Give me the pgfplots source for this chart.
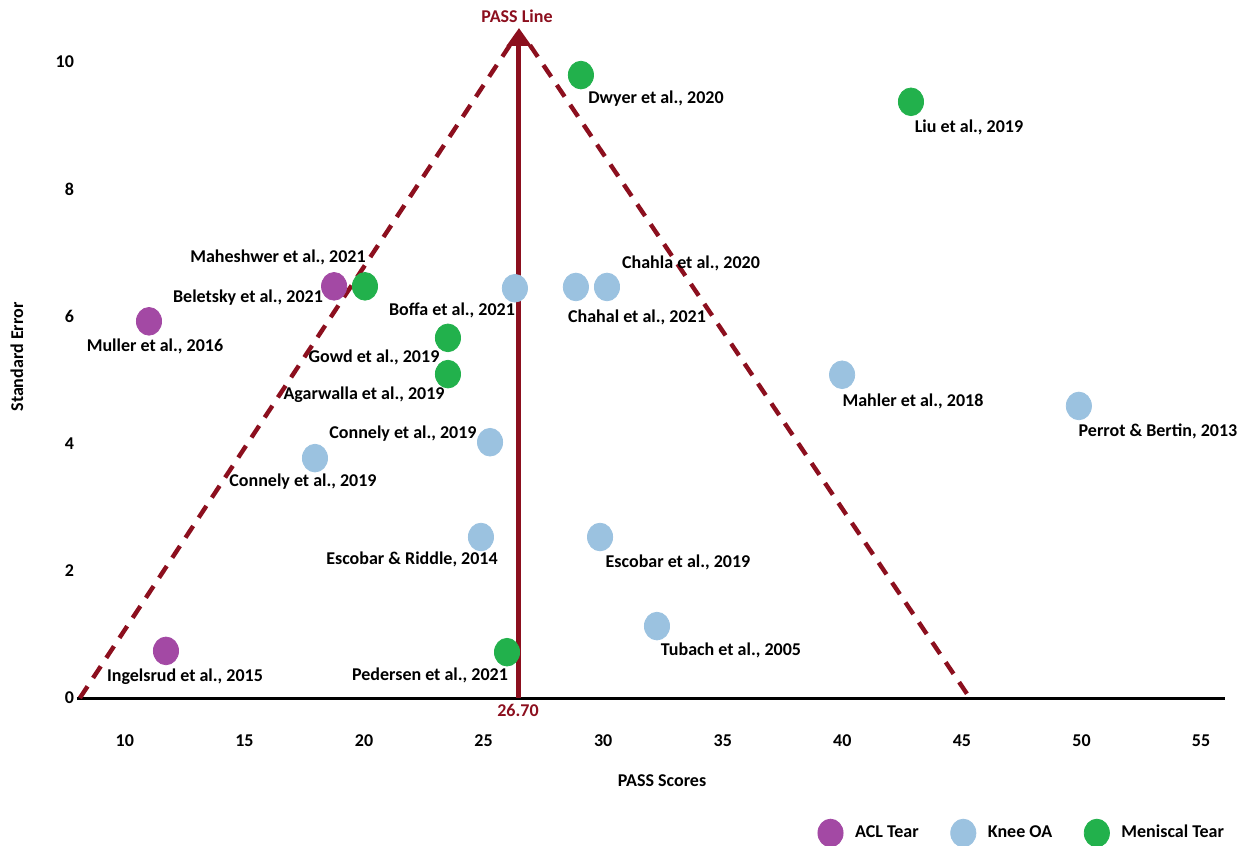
\documentclass[border=0pt]{standalone}
\usepackage{pgfplots}
\pgfplotsset{compat=1.18}
\usepackage{fontspec}
\setmainfont{Carlito}
\usetikzlibrary{arrows.meta}
\definecolor{pred}{RGB}{140,15,30}
\definecolor{acl}{RGB}{163,73,164}
\definecolor{knee}{RGB}{155,194,224}
\definecolor{men}{RGB}{34,177,76}
\newcommand{\lf}{\bfseries\fontsize{9}{11}\selectfont}
\begin{document}
\begin{tikzpicture}[font=\lf]
\begin{axis}[
  scale only axis, width=574pt, height=335pt,
  at={(0,0)}, anchor=south west,
  xmin=8, xmax=56, ymin=0, ymax=10.53,
  axis lines=left,
  x axis line style={line width=1.5pt,-},
  y axis line style={draw=none},
  major tick length=0pt,
  xtick={10,15,...,55}, ytick={0,2,...,10},
  tick label style={font=\lf},
  xticklabel style={yshift=-15pt},
  yticklabel style={xshift=2pt},
  /pgf/number format/assume math mode=true,
  clip=false,
  legend columns=3,
  legend style={draw=none, fill=none, at={(0.824,-0.2015)}, anchor=center, font=\lf,
    /tikz/every odd column/.append style={column sep=4pt},
    /tikz/every even column/.append style={column sep=14pt}},
]
% funnel lines
\addplot[pred, line width=2.2pt, dash pattern=on 7pt off 5pt, forget plot] coordinates {(8.12,0) (26.10,10.26)};
\addplot[pred, line width=2.2pt, dash pattern=on 7pt off 5pt, forget plot] coordinates {(26.94,10.26) (45.33,0)};
\addplot[pred, line width=2.5pt, -{Triangle[width=12pt,length=9pt]}, forget plot] coordinates {(26.48,0) (26.48,10.53)};
% ACL Tear
\addplot[only marks, mark=*, mark size=6.3pt, mark options={draw=acl, fill=acl, yscale=1.1}] coordinates {
(18.75,6.47) (11.01,5.92) (11.72,0.74)};
\addlegendentry{ACL Tear}
% Knee OA
\addplot[only marks, mark=*, mark size=6.3pt, mark options={draw=knee, fill=knee, yscale=1.1}] coordinates {
(26.31,6.44) (28.86,6.46) (30.16,6.46) (39.99,5.08) (49.89,4.59) (25.27,4.02) (17.95,3.77)
(24.89,2.53) (29.87,2.53) (32.25,1.13)};
\addlegendentry{Knee OA}
% Meniscal Tear
\addplot[only marks, mark=*, mark size=6.3pt, mark options={draw=men, fill=men, yscale=1.1}] coordinates {
(29.07,9.79) (42.87,9.37) (20.04,6.47) (23.51,5.66) (23.51,5.09) (25.98,0.72)};
\addlegendentry{Meniscal Tear}
\end{axis}
% labels (pt coordinates relative to axis origin)
\node at (289.5pt,299.5pt) {Dwyer et al., 2020};
\node at (446pt,285.5pt) {Liu et al., 2019};
\node at (100.5pt,220.5pt) {Maheshwer et al., 2021};
\node at (85.5pt,200pt) {Beletsky et al., 2021};
\node at (187.5pt,194pt) {Boffa et al., 2021};
\node at (307pt,217.5pt) {Chahla et al., 2020};
\node at (280pt,190.5pt) {Chahal et al., 2021};
\node at (39pt,176pt) {Muller et al., 2016};
\node at (148.5pt,170.5pt) {Gowd et al., 2019};
\node at (143.5pt,151.5pt) {Agarwalla et al., 2019};
\node at (418pt,148.5pt) {Mahler et al., 2018};
\node at (540.5pt,133.5pt) {Perrot \& Bertin, 2013};
\node at (163pt,132pt) {Connely et al., 2019};
\node at (113pt,108pt) {Connely et al., 2019};
\node at (167.5pt,69.5pt) {Escobar \& Riddle, 2014};
\node at (300.5pt,68pt) {Escobar et al., 2019};
\node at (327pt,24pt) {Tubach et al., 2005};
\node at (54pt,10.5pt) {Ingelsrud et al., 2015};
\node at (176.5pt,11.5pt) {Pedersen et al., 2021};
\node[pred] at (220pt,341pt) {PASS Line};
\node[pred] at (220.5pt,-6pt) {26.70};
\node at (292.5pt,-41.5pt) {PASS Scores};
\node[rotate=90] at (-30pt,170.5pt) {Standard Error};
\pgfresetboundingbox
\path (-38.5pt,-74pt) rectangle (585.5pt,349pt);
\end{tikzpicture}
\end{document}
